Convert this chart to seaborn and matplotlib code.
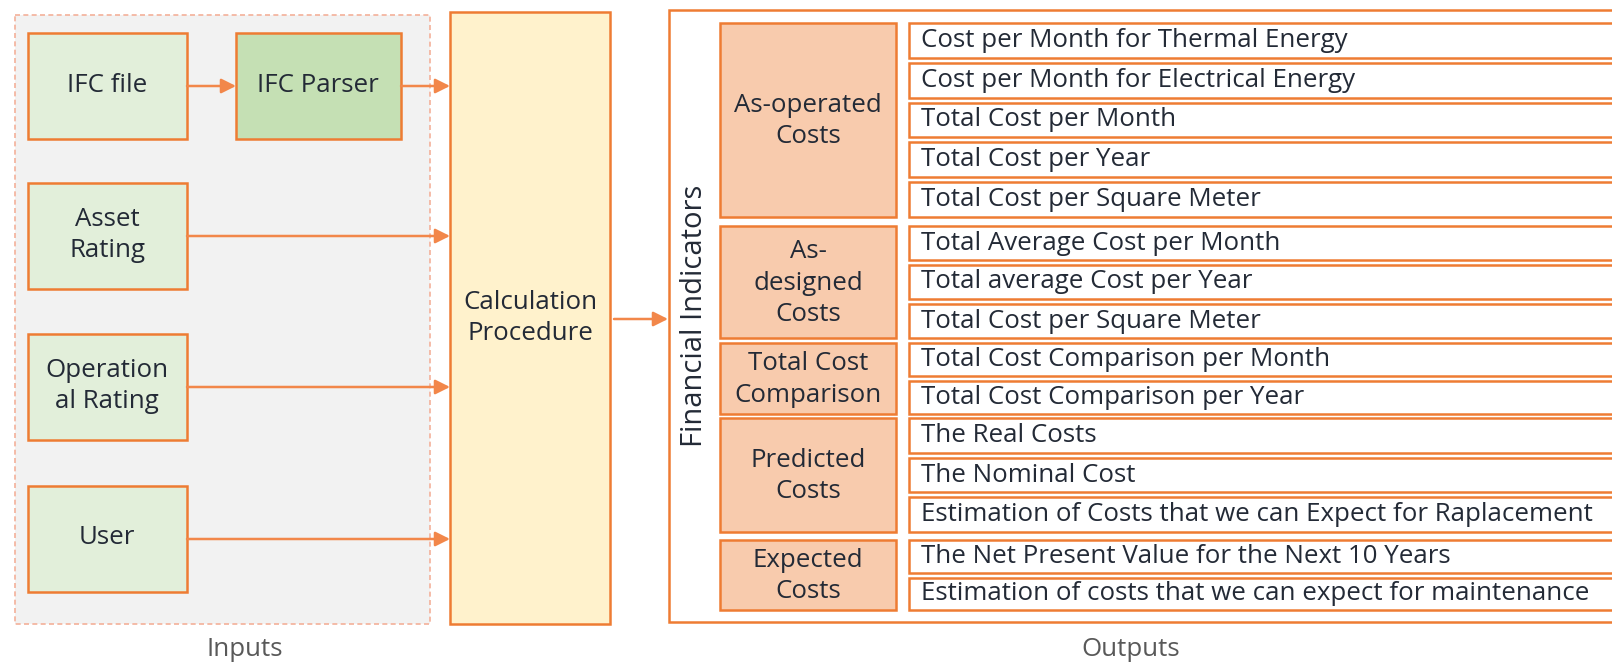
import matplotlib.pyplot as plt
import matplotlib.patches as patches
import seaborn as sns

# Diagram texts
input_labels = ["IFC file", "Asset\nRating", "Operation\nal Rating", "User"]
parser_label = "IFC Parser"
calc_label = "Calculation\nProcedure"
side_label = "Financial Indicators"
group_labels = ["As-operated\nCosts", "As-\ndesigned\nCosts", "Total Cost\nComparison",
                "Predicted\nCosts", "Expected\nCosts"]
group_sizes = [5, 3, 2, 3, 2]
item_labels = [
    "Cost per Month for Thermal Energy",
    "Cost per Month for Electrical Energy",
    "Total Cost per Month",
    "Total Cost per Year",
    "Total Cost per Square Meter",
    "Total Average Cost per Month",
    "Total average Cost per Year",
    "Total Cost per Square Meter",
    "Total Cost Comparison per Month",
    "Total Cost Comparison per Year",
    "The Real Costs",
    "The Nominal Cost",
    "Estimation of Costs that we can Expect for Raplacement",
    "The Net Present Value for the Next 10 Years",
    "Estimation of costs that we can expect for maintenance",
]
footer_labels = ["Inputs", "Outputs"]

sns.set_theme(style="white")
plt.rcParams['font.family'] = ['Open Sans', 'DejaVu Sans']

ORANGE = "#EE7C33"
ARROW = "#F2874A"
TXT = "#232a36"
FS = 18.6

fig = plt.figure(figsize=(16.12, 6.67), dpi=100)
ax = fig.add_axes([0, 0, 1, 1])
ax.set_xlim(0, 1612)
ax.set_ylim(667, 0)
ax.axis("off")


def box(x0, y0, x1, y1, face, edge=ORANGE, lw=1.8, ls="-", z=2):
    ax.add_patch(patches.Rectangle((x0, y0), x1 - x0, y1 - y0, facecolor=face,
                                   edgecolor=edge, lw=lw, ls=ls, zorder=z))


def arrow(x0, x1, y):
    ax.annotate("", xy=(x1, y), xytext=(x0, y),
                arrowprops=dict(arrowstyle="-|>", color=ARROW, lw=1.8,
                                mutation_scale=22, shrinkA=0, shrinkB=0), zorder=4)


# --- inputs ---
box(15, 15, 430, 624, "#F2F2F2", edge="#F4B09A", lw=1.2, ls=(0, (3, 2)), z=1)
tops = [33, 183, 334, 486]
for lab, t in zip(input_labels, tops):
    box(28, t, 187, t + 106, "#E2EFDA")
    ax.text(107, t + 52, lab, ha="center", va="center", fontsize=FS, color=TXT,
            linespacing=1.32, zorder=5)
    if t == tops[0]:
        arrow(187, 236, t + 53)
    else:
        arrow(187, 450, t + 53)
box(236, 33, 401, 139, "#C5E0B4")
ax.text(318, 85, parser_label, ha="center", va="center", fontsize=FS, color=TXT, zorder=5)
arrow(401, 450, 86)

# --- calculation ---
box(450, 12, 610, 624, "#FFF2CC")
ax.text(530, 318, calc_label, ha="center", va="center", fontsize=FS, color=TXT,
        linespacing=1.32, zorder=5)
arrow(614, 668, 319)

# --- outputs ---
box(669, 10, 1640, 622, "white", lw=1.8, z=1)
ax.text(694, 316, side_label, ha="center", va="center", rotation=90, fontsize=21,
        color=TXT, zorder=5)

spans = [(23, 217), (226, 338), (343, 414), (418, 532), (540, 610)]
gap = 5
k = 0
for lab, n, (top, bot) in zip(group_labels, group_sizes, spans):
    box(720, top, 896, bot, "#F8CBAD")
    ax.text(808, (top + bot) / 2 + 1, lab, ha="center", va="center", fontsize=FS,
            color=TXT, linespacing=1.32, zorder=5)
    pitch = (bot - top + gap) / n
    for i in range(n):
        y0 = top + i * pitch
        y1 = y0 + pitch - gap
        box(909, y0, 1640, y1, "white")
        ax.text(921, (y0 + y1) / 2, item_labels[k], ha="left", va="center",
                fontsize=FS, color=TXT, zorder=5)
        k += 1

ax.text(245, 650, footer_labels[0], ha="center", va="center", fontsize=FS, color="#595959")
ax.text(1131, 650, footer_labels[1], ha="center", va="center", fontsize=FS, color="#595959")

fig.savefig("out.png", dpi=100)
